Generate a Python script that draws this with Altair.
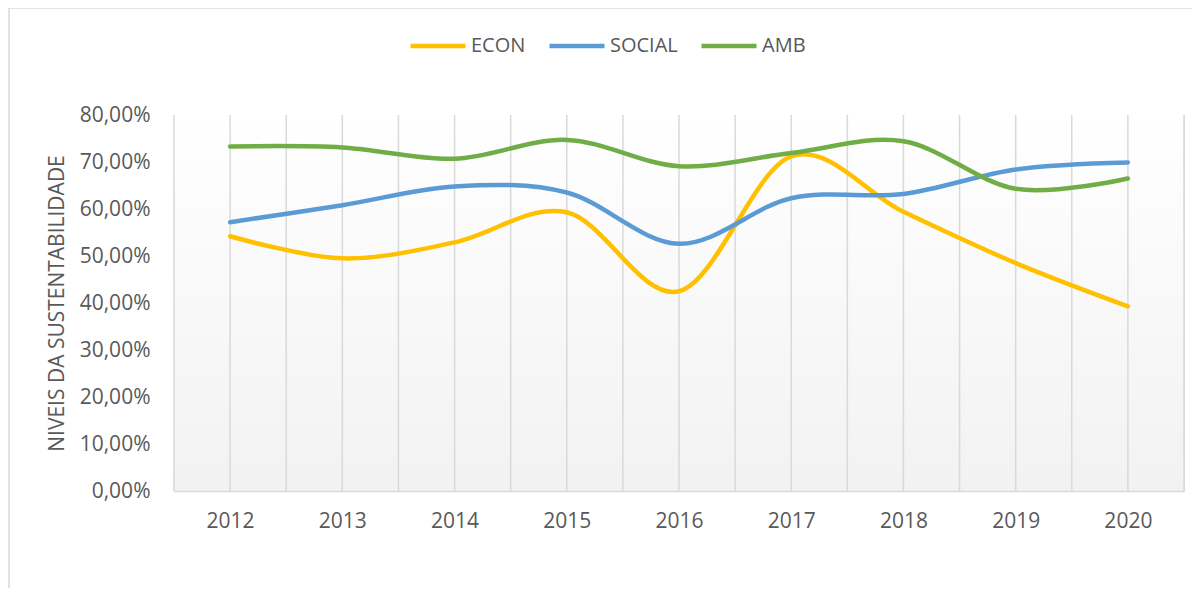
import altair as alt
import pandas as pd

years = [2012, 2013, 2014, 2015, 2016, 2017, 2018, 2019, 2020]
series_names = ["ECON", "SOCIAL", "AMB"]
econ = [0.542, 0.495, 0.529, 0.593, 0.425, 0.712, 0.594, 0.485, 0.393]
social = [0.572, 0.608, 0.648, 0.635, 0.526, 0.623, 0.632, 0.684, 0.699]
amb = [0.733, 0.731, 0.707, 0.747, 0.691, 0.719, 0.744, 0.643, 0.665]
y_ticks = [0.0, 0.1, 0.2, 0.3, 0.4, 0.5, 0.6, 0.7, 0.8]
colors = ["#FFC000", "#5B9BD5", "#70AD47"]

rows = []
for name, vals in zip(series_names, [econ, social, amb]):
    for yr, v in zip(years, vals):
        rows.append({"ano": yr, "serie": name, "valor": v})
df = pd.DataFrame(rows)

# vertical gridlines at category centres and boundaries (Excel style)
grid_positions = sorted(set([y - 0.5 for y in years] + years + [years[-1] + 0.5]))
grid_df = pd.DataFrame({"ano": grid_positions})

W, H = 1010, 376
FONT = "Open Sans"
TXT = "#595959"

xscale = alt.Scale(domain=[years[0] - 0.5, years[-1] + 0.5], nice=False, zero=False)
yscale = alt.Scale(domain=[0, 0.8], nice=False)

x_axis = alt.Axis(values=years, grid=False, ticks=False, domain=True,
                  domainColor="#d9d9d9", domainWidth=1.5,
                  labelExpr="format(datum.value, 'd')",
                  labelFont=FONT, labelFontSize=21, labelColor=TXT,
                  labelPadding=19, title=None, zindex=1)

border = alt.Chart(alt.Data(values=[{}])).mark_rect(
    fillOpacity=0, stroke="#d9d9d9", strokeWidth=1.5
).encode(x=alt.value(-165), x2=alt.value(1100), y=alt.value(-107), y2=alt.value(600))

bg = alt.Chart(alt.Data(values=[{}])).mark_rect(
    color=alt.LinearGradient(
        gradient="linear",
        stops=[alt.GradientStop(color="#ffffff", offset=0),
               alt.GradientStop(color="#f2f2f2", offset=1)],
        x1=0, x2=0, y1=0, y2=1,
    )
).encode(x=alt.value(0), x2=alt.value(W), y=alt.value(0), y2=alt.value(H))

grid = alt.Chart(grid_df).mark_rule(color="#d9d9d9", strokeWidth=1.5).encode(
    x=alt.X("ano:Q", scale=xscale, axis=x_axis),
    y=alt.value(0), y2=alt.value(H),
)

lines = alt.Chart(df).mark_line(
    interpolate="cardinal", strokeWidth=4.5, strokeCap="round", strokeJoin="round"
).encode(
    x=alt.X("ano:Q", scale=xscale, axis=x_axis),
    y=alt.Y("valor:Q", scale=yscale,
            axis=alt.Axis(values=y_ticks, grid=False, ticks=False, domain=False,
                          labelExpr="replace(format(datum.value, '.2%'), '.', ',')",
                          labelFont=FONT, labelFontSize=21, labelColor=TXT,
                          labelPadding=24,
                          title="NIVEIS DA SUSTENTABILIDADE",
                          titleFont=FONT, titleFontSize=21, titleFontWeight="normal",
                          titleColor=TXT, titleX=-117, titleY=H / 2,
                          titleAngle=270, titleAlign="center", titleBaseline="middle")),
    color=alt.Color("serie:N",
                    scale=alt.Scale(domain=series_names, range=colors),
                    sort=series_names,
                    legend=alt.Legend(title=None, orient="none", direction="horizontal",
                                      legendX=234, legendY=-99,
                                      symbolType="stroke", symbolSize=3025,
                                      symbolStrokeWidth=4.5,
                                      labelFont=FONT, labelFontSize=20, labelColor=TXT,
                                      labelOffset=3, columnPadding=14)),
)

chart = alt.layer(border, bg, grid, lines).properties(
    width=W, height=H,
    autosize=alt.AutoSizeParams(type="none"),
    padding={"left": 166, "top": 107, "right": 8, "bottom": 97},
).configure_view(stroke=None).configure(background="white")

chart.save("out.html", embed_options={"renderer": "svg", "actions": False})
